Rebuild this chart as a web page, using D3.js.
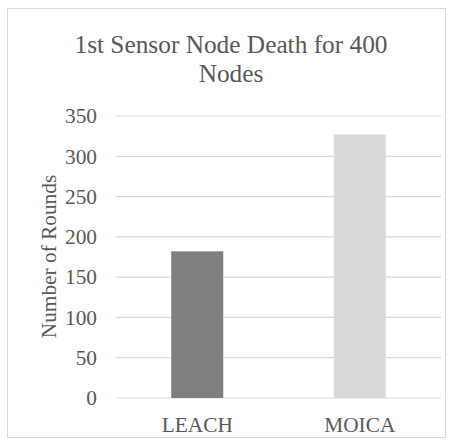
<!DOCTYPE html>
<html>
<head>
<meta charset="utf-8">
<script src="https://cdn.jsdelivr.net/npm/d3@7"></script>
<style>
  body { margin: 0; background: #fff; }
</style>
</head>
<body>
<div id="chart"></div>
<script>
// Data
var categories = ["LEACH", "MOICA"];
var rounds = [182, 327];
var barColors = ["#7f7f7f", "#d9d9d9"];
var yTicks = [0, 50, 100, 150, 200, 250, 300, 350];
var titleLines = ["1st Sensor Node Death for 400", "Nodes"];

var fontFam = "Liberation Serif";
var textColor = "#595959";

// Dimensions
var outerWidth = 451;
var outerHeight = 440;

var plotLeft = 116;
var plotRight = 441;
var plotTop = 116;
var plotBottom = 398;

var svg = d3.select("#chart").append("svg")
    .attr("width", outerWidth)
    .attr("height", outerHeight)
    .attr("font-family", fontFam);

// chart border
svg.append("rect")
    .attr("x", 7.5).attr("y", 8.5)
    .attr("width", 438).attr("height", 429)
    .attr("fill", "#fff")
    .attr("stroke", "#d9d9d9")
    .attr("stroke-width", 1);

var xScale = d3.scaleBand()
    .domain(categories)
    .range([plotLeft, plotRight])
    .paddingInner(0.68)
    .paddingOuter(0.34);

var yScale = d3.scaleLinear().domain([0, 350]).range([plotBottom, plotTop]);

// gridlines
svg.append("g").selectAll("line").data(yTicks).enter().append("line")
    .attr("x1", plotLeft).attr("x2", plotRight)
    .attr("y1", function(d) { return yScale(d); })
    .attr("y2", function(d) { return yScale(d); })
    .attr("stroke", "#d9d9d9")
    .attr("stroke-width", 1.2);

// bars
svg.append("g").selectAll("rect").data(rounds).enter().append("rect")
    .attr("x", function(d, i) { return xScale(categories[i]); })
    .attr("y", function(d) { return yScale(d); })
    .attr("width", xScale.bandwidth())
    .attr("height", function(d) { return plotBottom - yScale(d); })
    .attr("fill", function(d, i) { return barColors[i]; });

// y axis labels (no axis line)
var yAxis = d3.axisLeft(yScale).tickValues(yTicks).tickSize(0).tickPadding(19);
var yAxisG = svg.append("g").attr("transform", "translate(" + plotLeft + ",0)").call(yAxis);
yAxisG.select(".domain").remove();
yAxisG.attr("font-family", fontFam).attr("font-size", 21.33);
yAxisG.selectAll("text")
    .attr("fill", textColor);

// x axis labels
var xAxis = d3.axisBottom(xScale).tickSize(0).tickPadding(18.4);
var xAxisG = svg.append("g").attr("transform", "translate(0," + plotBottom + ")").call(xAxis);
xAxisG.select(".domain").remove();
xAxisG.attr("font-family", fontFam).attr("font-size", 21.33);
xAxisG.selectAll("text")
    .attr("fill", textColor);

// axis title
svg.append("text")
    .attr("transform", "translate(55.5,256.5) rotate(-90)")
    .attr("text-anchor", "middle")
    .attr("font-size", 21.33)
    .attr("fill", textColor)
    .text("Number of Rounds");

// title
svg.append("g").selectAll("text").data(titleLines).enter().append("text")
    .attr("x", 231)
    .attr("y", function(d, i) { return 53.3 + i * 28.4; })
    .attr("text-anchor", "middle")
    .attr("font-size", 25.33)
    .attr("fill", textColor)
    .text(function(d) { return d; });
</script>
</body>
</html>
